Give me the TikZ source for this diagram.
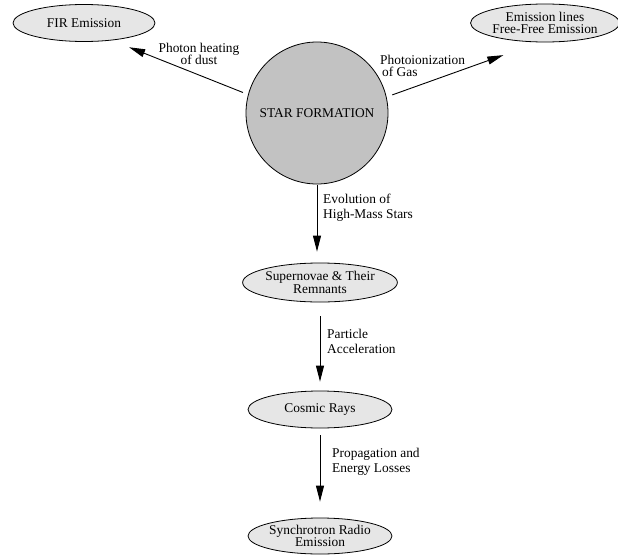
\documentclass[tikz,border=0pt]{standalone}
\usepackage{fontspec}
\setmainfont{Liberation Serif}
\usepackage{tikz}
\usetikzlibrary{arrows.meta, shapes.geometric}
\definecolor{blobgray}{HTML}{E6E6E6}
\definecolor{stargray}{HTML}{C2C2C2}

\begin{document}
\begin{tikzpicture}[
    x=1pt, y=-1pt,
    emis/.style={ellipse, draw, line width=0.8pt, fill=blobgray, minimum width=144pt, minimum height=37pt, inner sep=0pt, align=center, font=\fontsize{13.4}{12.5}\selectfont},
    star/.style={circle, draw, line width=0.8pt, fill=stargray, minimum size=142pt, inner sep=0pt, font=\fontsize{13.4}{15}\selectfont},
    flow/.style={-{Triangle[length=16pt, width=8pt]}, line width=0.9pt},
    lbl/.style={inner sep=0pt, font=\fontsize{13.4}{15}\selectfont}
  ]
  \useasboundingbox (0,0) rectangle (618,554);

  % Central source
  \node[star] (star) at (317,113) {STAR FORMATION};

  % Top corners
  \node[emis, minimum width=142pt] (fir) at (84,23) {FIR Emission};
  \node[emis, minimum width=143pt, minimum height=38pt] (lines) at (545,23) {Emission lines\\Free-Free Emission};

  % Chain down the middle
  \node[emis, minimum height=39pt] (sn) at (320,282.5) {Supernovae \& Their\\Remnants};
  \node[emis] (cr) at (320,409.5) {Cosmic Rays};
  \node[emis, minimum height=36pt] (sync) at (320,536) {Synchrotron Radio\\Emission};

  % Arrows out of the star-forming region
  \draw[flow, shorten <=5.5pt, shorten >=18.6pt] (star.165) -- (fir.-32.6);
  \draw[flow, shorten <=6pt, shorten >=38pt] (star.13.5) -- (lines.-107.3);
  \draw[flow, shorten <=1pt, shorten >=11pt] (star.south) -- (star.south |- sn.north);
  \draw[flow, shorten <=14pt, shorten >=9pt] (sn.south) -- (cr.north);
  \draw[flow, shorten <=7pt, shorten >=16pt] (cr.south) -- (sync.north);

  % Process labels
  \node[lbl, align=center, font=\fontsize{13.4}{12.5}\selectfont] (heat) at (199,54) {Photon heating\\of dust};
  \node[lbl, align=left, anchor=west, font=\fontsize{13.4}{12.5}\selectfont] (ion) at (380,66) {Photoionization\\\hspace{2pt}of Gas};
  \node[lbl, align=left, anchor=west] (evol) at (323,208) {Evolution of\\High-Mass Stars};
  \node[lbl, align=left, anchor=west] (accel) at (327,341) {Particle\\Acceleration};
  \node[lbl, align=left, anchor=west] (prop) at (332,462) {Propagation and\\Energy Losses};
\end{tikzpicture}
\end{document}
